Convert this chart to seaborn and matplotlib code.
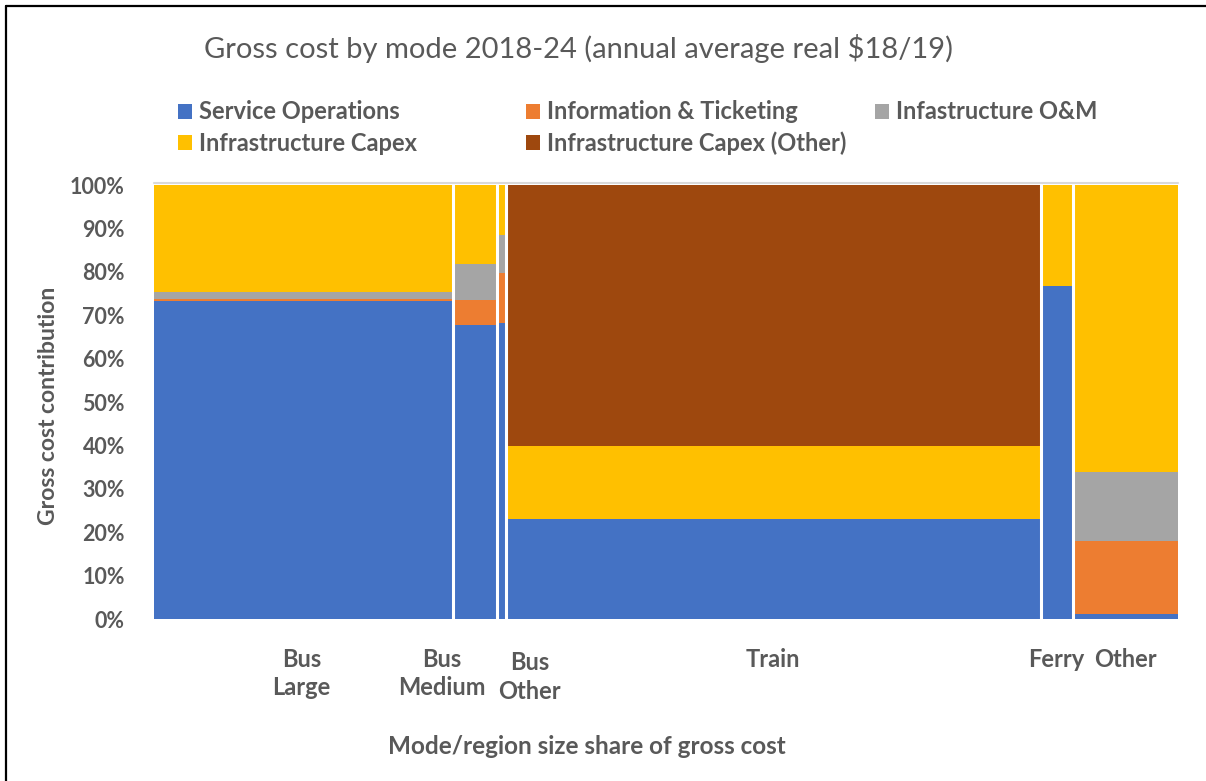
import numpy as np
import pandas as pd
import matplotlib
matplotlib.use("Agg")
import matplotlib.pyplot as plt
from matplotlib.patches import Patch
from matplotlib.lines import Line2D
import seaborn as sns

# ---- data ----
modes = ["Bus Large", "Bus Medium", "Bus Other", "Train", "Ferry", "Other"]
mode_labels = ["Bus\nLarge", "Bus\nMedium", "Bus\nOther", "Train", "Ferry", "Other"]
size_share = [29.2, 4.25, 0.9, 52.25, 3.1, 10.3]   # % of gross cost (bar widths)

components = ["Service Operations", "Information & Ticketing", "Infastructure O&M",
              "Infrastructure Capex", "Infrastructure Capex (Other)"]
service_ops = [73.3, 67.7, 68.2, 23.0, 76.8, 1.1]
info_ticketing = [0.4, 5.8, 11.5, 0.0, 0.0, 16.8]
infra_om = [1.6, 8.2, 8.8, 0.0, 0.0, 15.9]
infra_capex = [24.7, 18.3, 11.5, 16.9, 23.2, 66.2]
infra_capex_other = [0.0, 0.0, 0.0, 60.1, 0.0, 0.0]

colors = ["#4472C4", "#ED7D31", "#A5A5A5", "#FFC000", "#9E480E"]
yticks = list(range(0, 101, 10))

# ---- build long table ----
edges = [0.0] + [float(v) for v in np.cumsum(size_share)]
centers = [(a + b) / 2 for a, b in zip(edges[:-1], edges[1:])]
series = [service_ops, info_ticketing, infra_om, infra_capex, infra_capex_other]
rows = []
for comp, vals in zip(components, series):
    for m, c, v in zip(modes, centers, vals):
        rows.append({"mode": m, "x": c, "component": comp, "value": v})
df = pd.DataFrame(rows)

sns.set_theme(style="white")
plt.rcParams["font.family"] = ["Lato", "DejaVu Sans"]
txt = "#595959"

fig = plt.figure(figsize=(12.06, 7.81), dpi=100)
ax = fig.add_axes([0.1277, 0.2074, 0.8491, 0.5557])

sns.histplot(data=df, x="x", weights="value", hue="component",
             hue_order=components[::-1], palette=dict(zip(components, colors)),
             bins=edges, multiple="stack", element="bars", fill=True,
             linewidth=0, alpha=1, legend=False, ax=ax)

ax.axhline(100.5, color="#D9D9D9", lw=1.5, zorder=0, clip_on=False)
for e in edges[1:-1]:
    ax.axvline(e, color="white", lw=2.2, zorder=5)

ax.set_xlim(0, 100)
ax.set_ylim(0, 100)
ax.set_yticks(yticks)
ax.set_yticklabels([f"{t}%" for t in yticks], fontsize=15.5, fontweight="bold", color=txt)
ax.tick_params(axis="y", length=0, pad=21)
ax.set_xticks([])
for s in ax.spines.values():
    s.set_visible(False)

ax.set_ylabel("Gross cost contribution", fontsize=16.5, fontweight="bold", color=txt)
ax.yaxis.set_label_coords(-0.093, 0.49)
ax.set_xlabel("")

# mode labels under the bars
offsets = {"Bus Large": -0.2, "Bus Medium": -3.2, "Bus Other": 2.8}
for m, lab, c in zip(modes, mode_labels, centers):
    dy = -0.8 if m == "Bus Other" else 0
    ax.text(c + offsets.get(m, 0.0), -6.6 + dy, lab, ha="center", va="top",
            fontsize=17, fontweight="bold", color=txt, linespacing=1.3,
            transform=ax.transData)

fig.text(0.487, 0.0448, "Mode/region size share of gross cost", ha="center", va="center",
         fontsize=17.5, fontweight="bold", color=txt)
fig.text(0.480, 0.9385, "Gross cost by mode 2018-24 (annual average real $18/19)",
         ha="center", va="center", fontsize=21, color=txt)

# legend: three columns, filled row by row
handles = {c: Patch(facecolor=col, edgecolor="none") for c, col in zip(components, colors)}
legend_cols = [[components[0], components[3]], [components[1], components[4]], [components[2]]]
legend_x = [178 / 1206, 526 / 1206, 875 / 1206]
for names, lx in zip(legend_cols, legend_x):
    leg = fig.legend([handles[n] for n in names], names, loc="upper left",
                     bbox_to_anchor=(lx, 0.8715), ncol=1, frameon=False,
                     prop={"size": 17, "weight": "bold"}, borderpad=0, borderaxespad=0,
                     handlelength=0.6, handleheight=0.6, handletextpad=0.3,
                     labelspacing=0.35)
    for t in leg.get_texts():
        t.set_color(txt)

# chart border (left and top visible)
fig.add_artist(Line2D([0.0050, 0.0050], [0.0, 0.9923], transform=fig.transFigure, color="black", lw=1.6))
fig.add_artist(Line2D([0.0050, 1.0], [0.9923, 0.9923], transform=fig.transFigure, color="black", lw=1.6))

fig.savefig("out.png", dpi=100, facecolor="white")
